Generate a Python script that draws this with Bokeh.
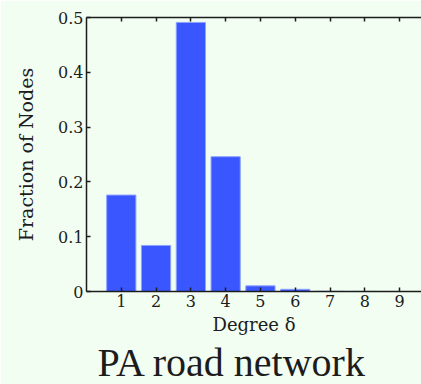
from bokeh.plotting import figure
from bokeh.models import LinearAxis, FixedTicker, Range1d, Title, ColumnDataSource
from bokeh.embed import file_html
from bokeh.resources import INLINE

degrees = [1, 2, 3, 4, 5, 6, 7, 8, 9]
fractions = [0.176, 0.084, 0.491, 0.246, 0.0103, 0.004, 0.0003, 0.0001, 0.00005]
y_ticks = [0, 0.1, 0.2, 0.3, 0.4, 0.5]
x_ticks = [1, 2, 3, 4, 5, 6, 7, 8, 9]

BG = "#f2fef2"
INK = "#1c1c1c"
SERIF = "DejaVu Serif"

src = ColumnDataSource(dict(x=degrees, top=fractions))

p = figure(width=421, height=384, output_backend="svg", toolbar_location=None,
           x_range=Range1d(0, 9.63), y_range=Range1d(0, 0.5),
           x_axis_location=None, y_axis_location=None,
           min_border_left=86, min_border_top=17, min_border_right=0, min_border_bottom=0)
p.background_fill_color = BG
p.border_fill_color = BG
p.outline_line_color = None
p.grid.visible = False

p.vbar(x="x", top="top", width=0.84, bottom=0, source=src,
       fill_color="#3a57ff", line_color="#8ea3ff", line_width=1)

def style(ax):
    ax.axis_line_color = INK
    ax.axis_line_width = 1.5
    ax.major_tick_line_color = INK
    ax.major_tick_line_width = 1.5
    ax.major_tick_in = 4
    ax.major_tick_out = 0
    ax.minor_tick_line_color = None
    ax.major_label_text_font = SERIF
    ax.major_label_text_font_size = "16px"
    ax.major_label_text_color = INK
    ax.axis_label_text_font = SERIF
    ax.axis_label_text_font_size = "18px"
    ax.axis_label_text_font_style = "normal"
    ax.axis_label_text_color = INK

yax = LinearAxis(ticker=FixedTicker(ticks=y_ticks), axis_label="Fraction of Nodes")
style(yax)
yax.axis_label_text_font_size = "19px"
yax.major_label_standoff = 3
yax.axis_label_standoff = 18
p.add_layout(yax, "left")

xax = LinearAxis(ticker=FixedTicker(ticks=x_ticks), axis_label="Degree δ")
style(xax)
xax.major_label_standoff = 3
xax.axis_label_standoff = 4
p.add_layout(xax, "below")

tax = LinearAxis(ticker=FixedTicker(ticks=x_ticks))
style(tax)
tax.major_label_text_font_size = "0px"
tax.major_label_overrides = {t: "" for t in x_ticks}
tax.major_label_standoff = 0
p.add_layout(tax, "above")

t = Title(text="PA road network", text_font="Liberation Serif", text_font_size="40px",
          text_font_style="normal", text_color=INK, align="left", standoff=0, offset=11)
p.add_layout(t, "below")

open("out.html", "w").write(file_html(p, INLINE))
